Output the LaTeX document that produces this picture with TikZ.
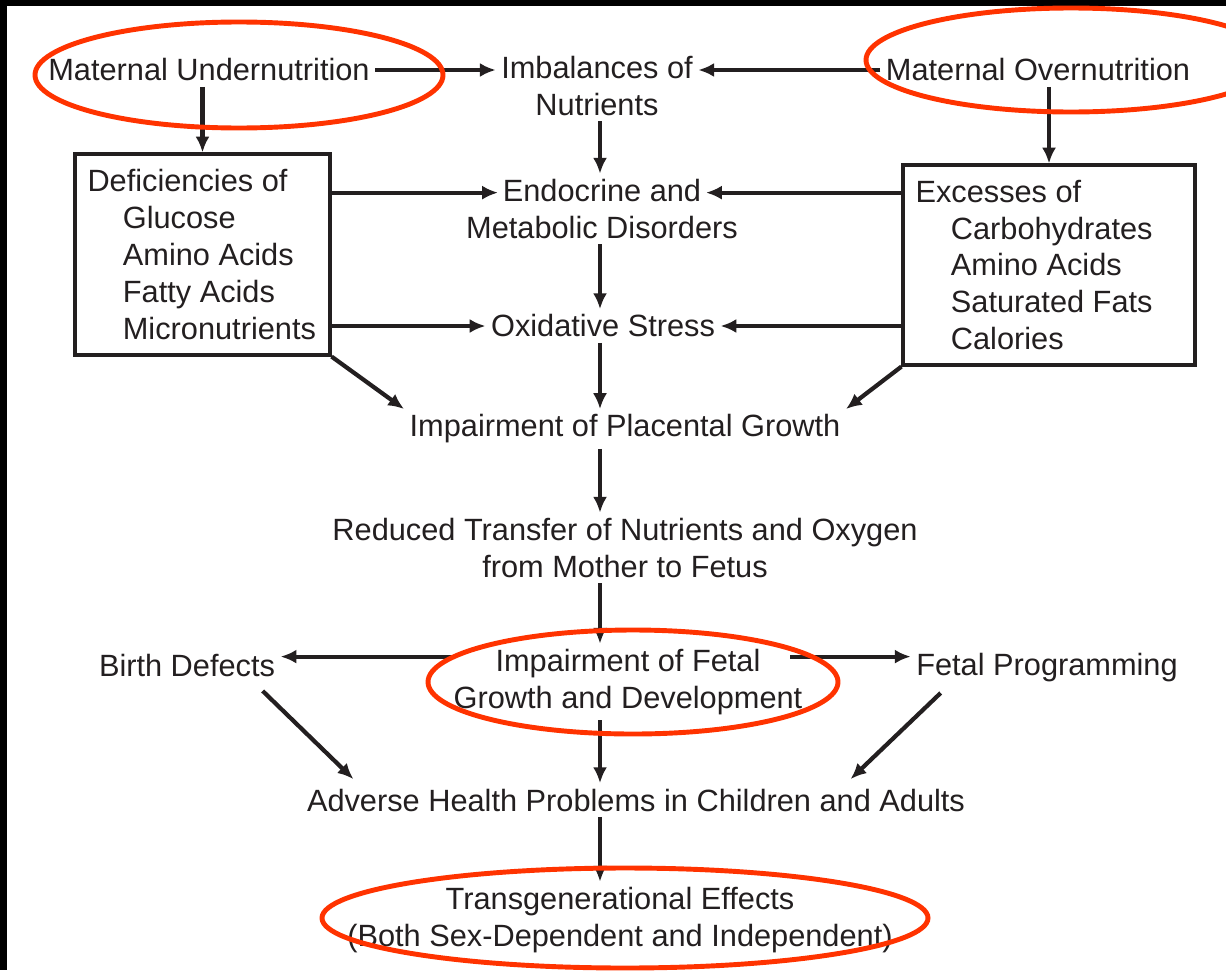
\documentclass[tikz,border=0pt]{standalone}
\usepackage{fontspec}
\setmainfont{Liberation Sans}
\usetikzlibrary{arrows.meta,calc}
\definecolor{ink}{HTML}{231F20}
\definecolor{marker}{HTML}{FF3300}

\begin{document}
\begin{tikzpicture}[x=0.02cm, y=-0.02cm,
        every node/.style={font=\fontsize{17.5}{21}\selectfont, text=ink, inner sep=3pt, align=center},
        listbox/.style={draw=ink, line width=1.8pt, align=flush left, inner xsep=0.25cm, inner ysep=0pt},
        arr/.style={draw=ink, line width=2.4pt, -{Latex[length=9pt, width=8pt]}},
        ring/.style={draw=marker, line width=2.8pt}]
        \useasboundingbox (0,0) rectangle (1226,970);
        \fill[black] (0,0) rectangle (1226,970);
        \fill[white] (7,6) rectangle (1226,970);

        \node (under) at (209, 70) {Maternal Undernutrition};
        \node (imb) at (597, 86) {Imbalances of\\Nutrients};
        \node (over) at (1038, 70) {Maternal Overnutrition};
        \node[listbox, text width=4.6cm, minimum height=4.02cm] (def) at (202.5, 254.5) {Deficiencies of\\\hspace*{1.15em}Glucose\\\hspace*{1.15em}Amino Acids\\\hspace*{1.15em}Fatty Acids\\\hspace*{1.15em}Micronutrients};
        \node[listbox, text width=5.34cm, minimum height=4cm] (exc) at (1049, 265) {Excesses of\\\hspace*{1.15em}Carbohydrates\\\hspace*{1.15em}Amino Acids\\\hspace*{1.15em}Saturated Fats\\\hspace*{1.15em}Calories};
        \node (endo) at (602, 209) {Endocrine and\\Metabolic Disorders};
        \node (oxi) at (603, 326) {Oxidative Stress};
        \node (plac) at (625, 429) {Impairment of Placental Growth};
        \node (redu) at (625, 548) {Reduced Transfer of Nutrients and Oxygen\\from Mother to Fetus};
        \node (fetal) at (628, 682) {Impairment of Fetal\\Growth and Development};
        \node (birth) at (187, 665) {Birth Defects};
        \node (prog) at (1047, 668) {Fetal Programming};
        \node (adv) at (636, 800) {Adverse Health Problems in Children and Adults};
        \node (trans) at (620, 920) {Transgenerational Effects\\(Both Sex-Dependent and Independent)};

        \coordinate (spine) at (600, 0);
        \coordinate (endoL) at ($(endo.north)+(-104, 19)$);
        \coordinate (endoR) at ($(endo.north)+(104, 19)$);
        \coordinate (fetalL) at ($(fetal.north)+(-173, 13)$);
        \coordinate (fetalR) at ($(fetal.north)+(162, 13)$);

        \draw[arr] (under) -- (imb.west |- under);
        \draw[arr] (over) -- (imb.east |- over);
        \draw[arr] (under.south -| def.north) -- (def.north);
        \draw[arr] (over.south -| exc.north) -- (exc.north);
        \draw[arr] (def.east |- endoL) -- (endoL);
        \draw[arr] (exc.west |- endoR) -- (endoR);
        \draw[arr] (def.east |- oxi) -- (oxi);
        \draw[arr] (exc.west |- oxi) -- (oxi);
        \draw[arr] (def.south east) -- (plac.north west);
        \draw[arr] (exc.south west) -- (plac.north east);

        \draw[arr] (imb.south -| spine) -- (endo.north -| spine);
        \draw[arr] (endo.south -| spine) -- (oxi.north -| spine);
        \draw[arr] (oxi.south -| spine) -- (plac.north -| spine);
        \draw[arr] (plac.south -| spine) -- (redu.north -| spine);
        \draw[arr] (redu.south -| spine) -- (fetal.north -| spine);
        \draw[arr] (fetal.south -| spine) -- (adv.north -| spine);
        \draw[arr] (adv.south -| spine) -- (trans.north -| spine);

        \draw[arr] (fetalL) -- (birth.east |- fetalL);
        \draw[arr] (fetalR) -- (prog.west |- fetalR);
        \draw[arr] ($(birth.south east)+(-18, 9)$) -- ($(adv.north west)+(52, -4)$);
        \draw[arr] ($(prog.south west)+(30, 5)$) -- ($(adv.north east)+(-120, -4)$);

        % highlights
        \draw[ring] (239, 75) ellipse [x radius=204, y radius=53];
        \draw[ring] (1071, 60) ellipse [x radius=205, y radius=52];
        \draw[ring] (633, 682) ellipse [x radius=205, y radius=52];
        \draw[ring] (625, 918) ellipse [x radius=303, y radius=50];
\end{tikzpicture}
\end{document}
